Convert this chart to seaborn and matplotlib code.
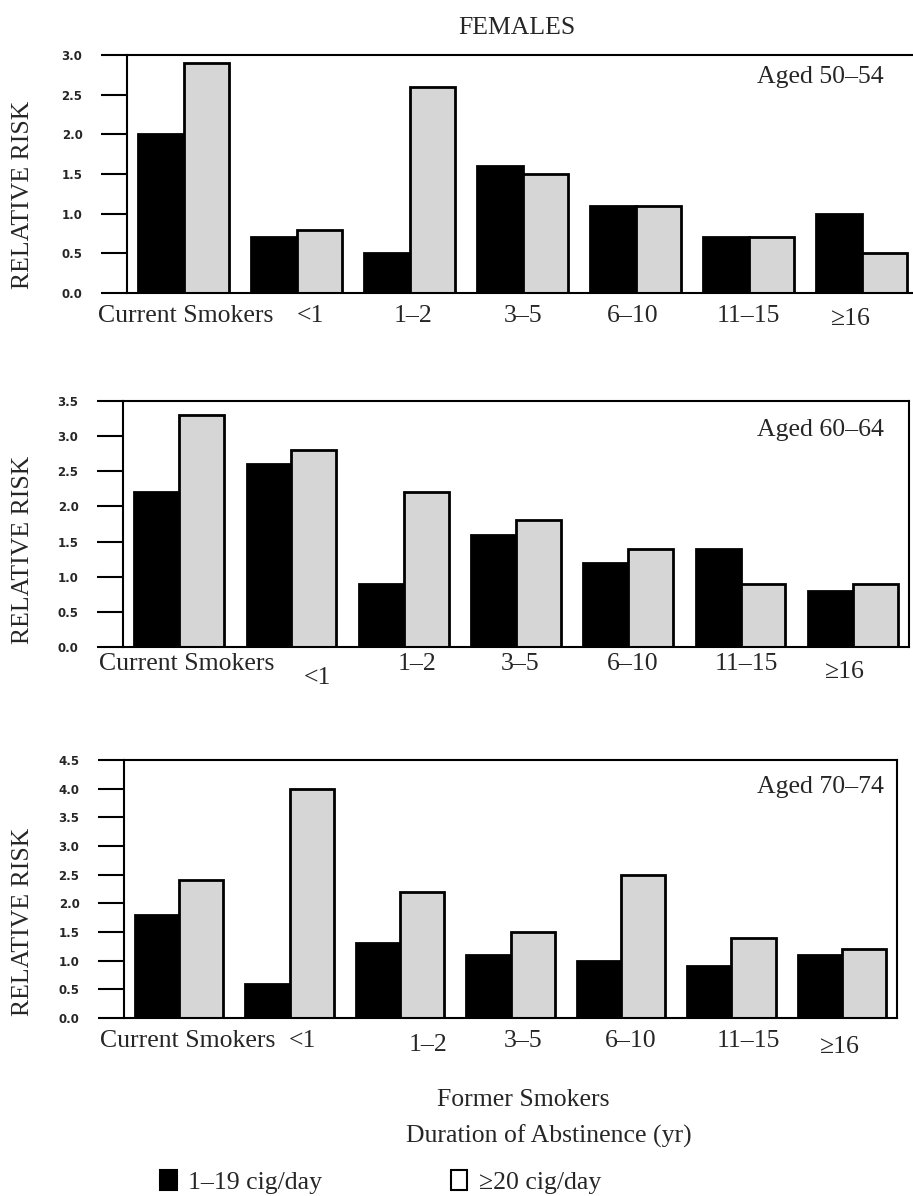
import numpy as np
import pandas as pd
import matplotlib
matplotlib.use("Agg")
import matplotlib.pyplot as plt
import seaborn as sns
from matplotlib.patches import Patch
from matplotlib.transforms import ScaledTranslation

# ---------------- data ----------------
categories = ["Current Smokers", "<1", "1–2", "3–5", "6–10", "11–15", "≥16"]
doses = ["1–19 cig/day", "≥20 cig/day"]
age_groups = ["Aged 50–54", "Aged 60–64", "Aged 70–74"]

rr_50_light = [2.0, 0.7, 0.5, 1.6, 1.1, 0.7, 1.0]
rr_50_heavy = [2.9, 0.8, 2.6, 1.5, 1.1, 0.7, 0.5]
rr_60_light = [2.2, 2.6, 0.9, 1.6, 1.2, 1.4, 0.8]
rr_60_heavy = [3.3, 2.8, 2.2, 1.8, 1.4, 0.9, 0.9]
rr_70_light = [1.8, 0.6, 1.3, 1.1, 1.0, 0.9, 1.1]
rr_70_heavy = [2.4, 4.0, 2.2, 1.5, 2.5, 1.4, 1.2]
y_max = [3.0, 3.5, 4.5]

panels = [
    (rr_50_light, rr_50_heavy),
    (rr_60_light, rr_60_heavy),
    (rr_70_light, rr_70_heavy),
]

# ---------------- style ----------------
sns.set_style("white")
plt.rcParams["font.family"] = ["Liberation Serif", "DejaVu Serif"]
plt.rcParams["axes.linewidth"] = 1.5

W, H = 913, 1196
fig = plt.figure(figsize=(W / 100, H / 100), dpi=100)


def fx(px):
    return px / W


def fy(py):
    return 1 - py / H


# axes boxes in pixels: left, right, top, bottom
boxes = [
    (127, 918, 55, 293),
    (123, 909, 401, 647),
    (124, 897, 760, 1018),
]
label_pads = [8.5, 4.5, 8.5]
label_offsets = [
    [(2, 0), (14, 0), (4, 0), (1, 0), (-3, 0), (0, 0), (-11, 3)],
    [(8, 0), (26, 14), (13, 0), (4, 0), (4, 0), (6, 0), (-8, 8)],
    [(8, 0), (13, 0), (28, 4), (13, 0), (10, 0), (17, 0), (-2, 6)],
]
aged_tops = [66, 419, 776]
ylabel_centers = [195, 550, 922]

palette = ["#000000", "#d6d6d6"]
FS = 18.5

for i, ((light, heavy), ymax) in enumerate(zip(panels, y_max)):
    l, r, t, b = boxes[i]
    ax = fig.add_axes([fx(l), fy(b), (r - l) / W, (b - t) / H])
    df = pd.DataFrame({
        "category": categories * 2,
        "dose": [doses[0]] * len(categories) + [doses[1]] * len(categories),
        "rr": list(light) + list(heavy),
    })
    sns.barplot(data=df, x="category", y="rr", hue="dose", order=categories,
                hue_order=doses, palette=palette, edgecolor="black",
                linewidth=2, saturation=1, width=0.8, ax=ax, legend=False)
    ax.set_xlim(-0.5, 6.5)
    ax.set_ylim(0, ymax)
    ax.set_yticks(np.arange(0, ymax + 0.01, 0.5))
    ax.set_yticklabels([f"{v:.1f}" for v in np.arange(0, ymax + 0.01, 0.5)],
                       fontfamily="DejaVu Sans", fontweight="bold", fontsize=8.5)
    ax.tick_params(axis="y", direction="out", length=19, width=1.5, pad=13,
                   left=True, color="black")
    ax.set_xticks(range(len(categories)))
    ax.set_xticklabels(categories, fontsize=FS)
    ax.tick_params(axis="x", length=0, pad=label_pads[i])
    for lbl, (dx, dy) in zip(ax.get_xticklabels(), label_offsets[i]):
        lbl.set_transform(lbl.get_transform() +
                          ScaledTranslation(dx / 100, -dy / 100, fig.dpi_scale_trans))
    ax.set_xlabel("")
    ax.set_ylabel("")
    for s in ax.spines.values():
        s.set_color("black")
        s.set_linewidth(1.5)
    if i == 0:
        ax.spines["right"].set_visible(False)

    fig.text(fx(884), fy(aged_tops[i]), age_groups[i], ha="right", va="top",
             fontsize=FS)
    fig.text(fx(23), fy(ylabel_centers[i]), "RELATIVE RISK", rotation=90,
             ha="center", va="center", fontsize=FS)

fig.text(fx(517), fy(28), "FEMALES", ha="center", va="center", fontsize=FS)
fig.text(fx(523), fy(1100), "Former Smokers", ha="center", va="center", fontsize=FS)
fig.text(fx(549), fy(1136), "Duration of Abstinence (yr)", ha="center",
         va="center", fontsize=FS)

handles = [Patch(facecolor=palette[0], edgecolor="black", linewidth=1.5),
           Patch(facecolor="white", edgecolor="black", linewidth=1.5)]
fig.legend(handles, doses, loc="center left", bbox_to_anchor=(fx(160), fy(1182)),
           ncol=2, frameon=False, handlelength=0.65, handleheight=0.8,
           handletextpad=0.45, columnspacing=5.0, borderpad=0, borderaxespad=0,
           prop={"size": FS})

fig.savefig("out.png", dpi=100)
